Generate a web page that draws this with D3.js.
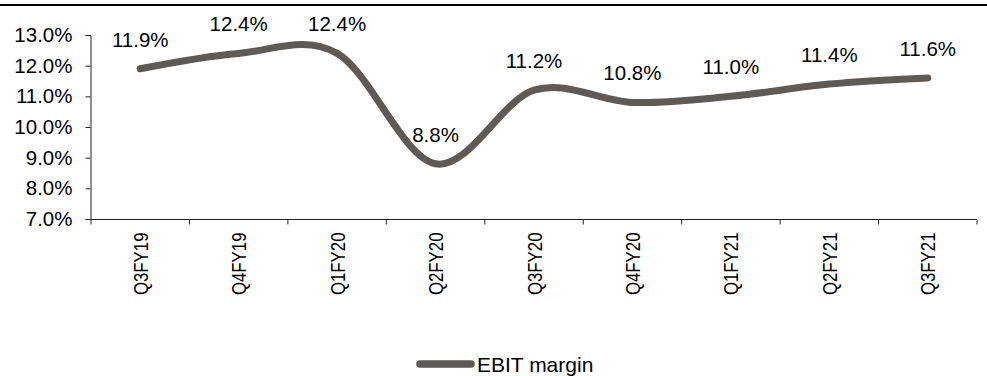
<!DOCTYPE html>
<html>
<head>
<meta charset="utf-8">
<script src="https://cdn.jsdelivr.net/npm/d3@7"></script>
<style>
  html, body { margin: 0; padding: 0; background: #fff; }
  svg { display: block; font-family: "Liberation Sans", Arial, sans-serif; }
</style>
</head>
<body>
<svg id="chart" width="987" height="376"></svg>
<script>
// Quarterly EBIT margin, %
const quarters = ["Q3FY19", "Q4FY19", "Q1FY20", "Q2FY20", "Q3FY20", "Q4FY20", "Q1FY21", "Q2FY21", "Q3FY21"];
const ebitMargin = [11.9, 12.4, 12.4, 8.8, 11.2, 10.8, 11.0, 11.4, 11.6];
const yTicks = [7, 8, 9, 10, 11, 12, 13];
const seriesName = "EBIT margin";

const W = 987;
const plotLeft = 91, plotRight = 977, plotTop = 35, plotBottom = 219;
const lineColor = "#605a56";
const fontSize = 20.5;

const svg = d3.select("#chart");

// header rule
svg.append("line")
  .attr("x1", 0).attr("x2", W)
  .attr("y1", 5).attr("y2", 5)
  .attr("stroke", "#000").attr("stroke-width", 2.2);

const x = d3.scaleBand()
  .domain(quarters)
  .range([plotLeft, plotRight]);

const y = d3.scaleLinear()
  .domain([7, 13])
  .range([plotBottom, plotTop]);

// y axis
const yAxis = svg.append("g")
  .attr("transform", `translate(${plotLeft - 0.5},0)`)
  .call(d3.axisLeft(y).tickValues(yTicks).tickSize(5).tickPadding(13)
    .tickFormat(d => d.toFixed(1) + "%"));
yAxis.select(".domain").attr("stroke", "#222");
yAxis.selectAll(".tick line").attr("stroke", "#222");
yAxis.selectAll(".tick text")
  .attr("font-size", fontSize).attr("fill", "#000")
  .attr("font-family", "Liberation Sans, Arial, sans-serif");

// x axis with ticks at category boundaries
const xAxisG = svg.append("g").attr("transform", `translate(0,${y(7) + 0.5})`);
xAxisG.append("line")
  .attr("x1", x.range()[0] - 1).attr("x2", x.range()[1])
  .attr("stroke", "#222");
const boundaries = quarters.map(q => x(q)).concat([x.range()[1]]);
xAxisG.selectAll("line.tick")
  .data(boundaries)
  .join("line")
  .attr("class", "tick")
  .attr("x1", d => d).attr("x2", d => d)
  .attr("y1", 0).attr("y2", 5)
  .attr("stroke", "#222");
// rotated category labels, slightly condensed along the reading direction
xAxisG.selectAll("text")
  .data(quarters)
  .join("text")
  .attr("transform", d => `translate(${x(d) + x.bandwidth() / 2 + 7.5},13) rotate(-90) scale(0.82,1)`)
  .attr("text-anchor", "end")
  .attr("font-size", fontSize)
  .attr("fill", "#000")
  .text(d => d);

// smoothed margin line
const pts = quarters.map((q, i) => ({ q, v: ebitMargin[i] }));
const line = d3.line()
  .x(d => x(d.q) + x.bandwidth() / 2)
  .y(d => y(d.v))
  .curve(d3.curveCatmullRom.alpha(0));

svg.append("path")
  .datum(pts)
  .attr("d", line)
  .attr("fill", "none")
  .attr("stroke", lineColor)
  .attr("stroke-width", 7)
  .attr("stroke-linecap", "round")
  .attr("stroke-linejoin", "round");

// value labels
svg.append("g").selectAll("text")
  .data(pts)
  .join("text")
  .attr("x", d => x(d.q) + x.bandwidth() / 2)
  .attr("y", d => y(d.v) - 22)
  .attr("text-anchor", "middle")
  .attr("font-size", fontSize)
  .attr("fill", "#000")
  .text(d => d.v.toFixed(1) + "%");

// legend
const legend = svg.append("g").attr("transform", "translate(417,364)");
legend.append("line")
  .attr("x1", 3).attr("x2", 54)
  .attr("stroke", lineColor)
  .attr("stroke-width", 7.5)
  .attr("stroke-linecap", "round");
legend.append("text")
  .attr("x", 60).attr("y", 7.5)
  .attr("font-size", 21)
  .attr("fill", "#000")
  .text(seriesName);
</script>
</body>
</html>
